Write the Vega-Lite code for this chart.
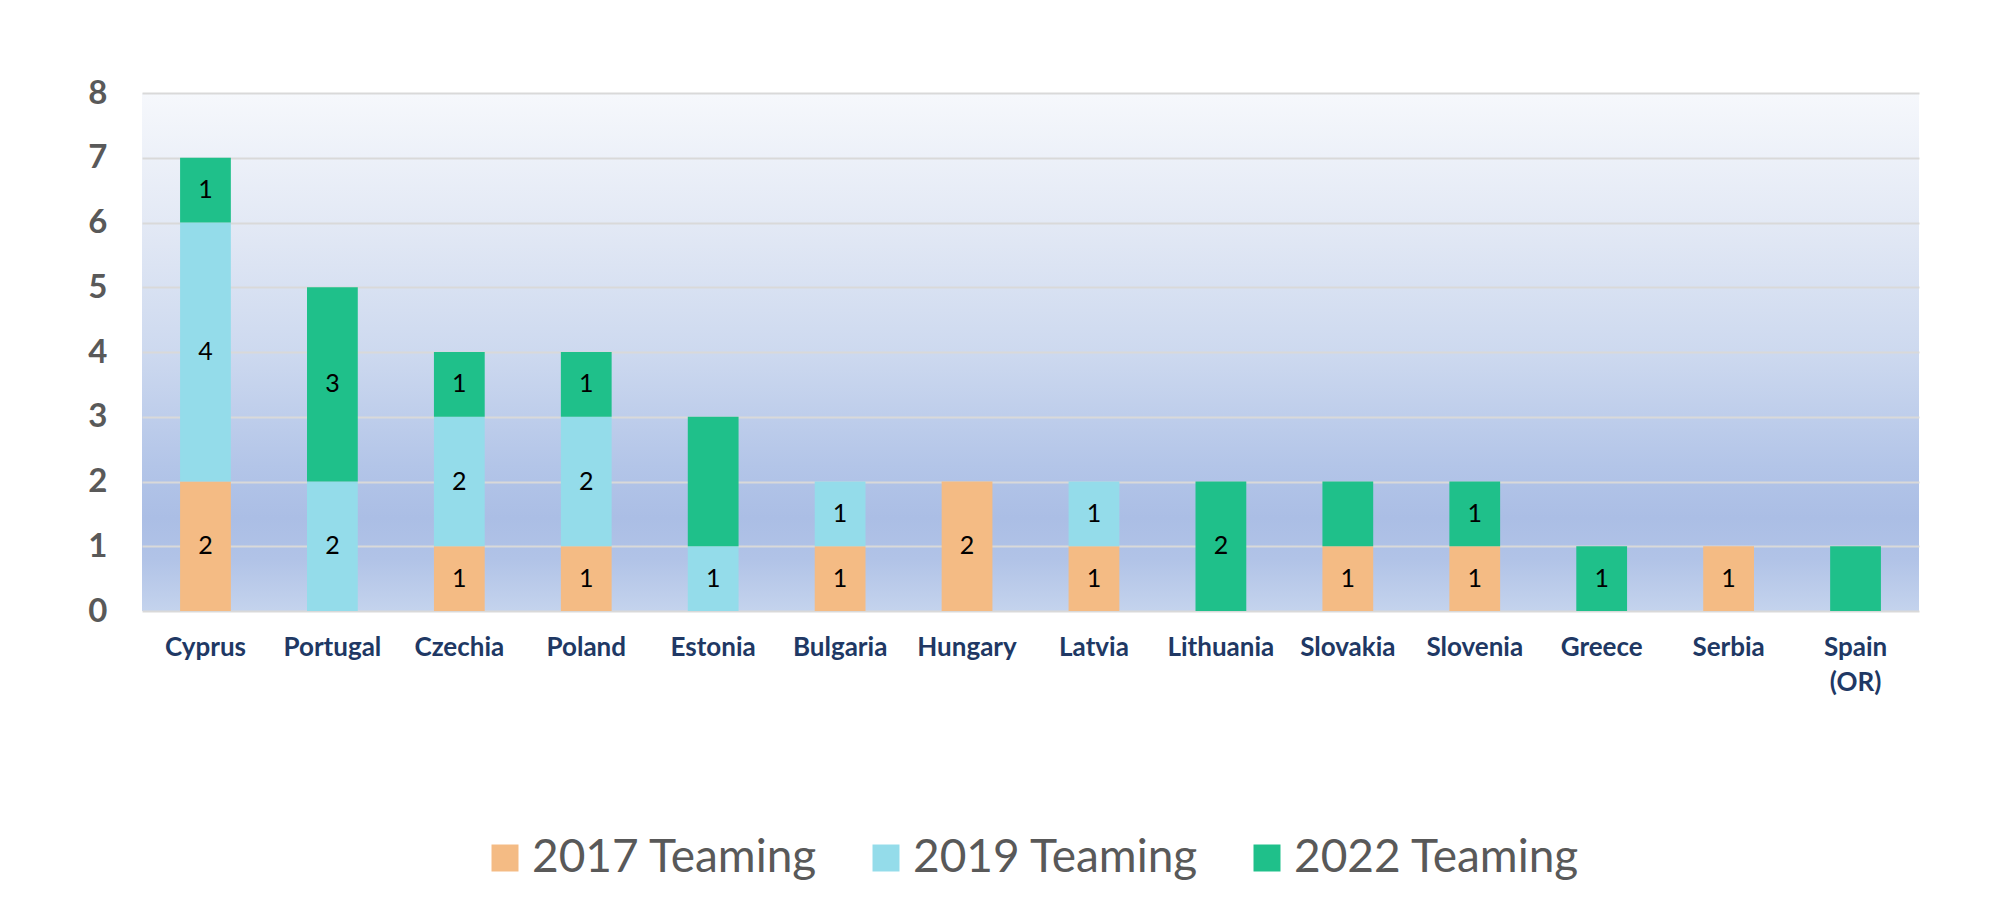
{
  "$schema": "https://vega.github.io/schema/vega-lite/v6.json",
  "width": 1777,
  "height": 518,
  "autosize": "none",
  "padding": {"left": 142, "top": 93, "right": 95, "bottom": 295},
  "background": "white",
  "config": {
    "font": "Lato",
    "view": {
      "stroke": null,
      "fill": {
        "gradient": "linear",
        "x1": 0, "y1": 0, "x2": 0, "y2": 1,
        "stops": [
          {"offset": 0, "color": "#f6f8fc"},
          {"offset": 0.25, "color": "#e3e9f5"},
          {"offset": 0.5, "color": "#cdd9ef"},
          {"offset": 0.72, "color": "#b3c5e8"},
          {"offset": 0.82, "color": "#abbee5"},
          {"offset": 0.9, "color": "#b1c3e7"},
          {"offset": 1, "color": "#c4d3ed"}
        ]
      }
    },
    "legend": {"layout": {"bottom": {"anchor": "middle"}}}
  },
  "data": {
    "values": [
      {"country": "Cyprus", "series": "2017 Teaming", "value": 2, "label": "2"},
      {"country": "Cyprus", "series": "2019 Teaming", "value": 4, "label": "4"},
      {"country": "Cyprus", "series": "2022 Teaming", "value": 1, "label": "1"},
      {"country": "Portugal", "series": "2019 Teaming", "value": 2, "label": "2"},
      {"country": "Portugal", "series": "2022 Teaming", "value": 3, "label": "3"},
      {"country": "Czechia", "series": "2017 Teaming", "value": 1, "label": "1"},
      {"country": "Czechia", "series": "2019 Teaming", "value": 2, "label": "2"},
      {"country": "Czechia", "series": "2022 Teaming", "value": 1, "label": "1"},
      {"country": "Poland", "series": "2017 Teaming", "value": 1, "label": "1"},
      {"country": "Poland", "series": "2019 Teaming", "value": 2, "label": "2"},
      {"country": "Poland", "series": "2022 Teaming", "value": 1, "label": "1"},
      {"country": "Estonia", "series": "2019 Teaming", "value": 1, "label": "1"},
      {"country": "Estonia", "series": "2022 Teaming", "value": 2, "label": ""},
      {"country": "Bulgaria", "series": "2017 Teaming", "value": 1, "label": "1"},
      {"country": "Bulgaria", "series": "2019 Teaming", "value": 1, "label": "1"},
      {"country": "Hungary", "series": "2017 Teaming", "value": 2, "label": "2"},
      {"country": "Latvia", "series": "2017 Teaming", "value": 1, "label": "1"},
      {"country": "Latvia", "series": "2019 Teaming", "value": 1, "label": "1"},
      {"country": "Lithuania", "series": "2022 Teaming", "value": 2, "label": "2"},
      {"country": "Slovakia", "series": "2017 Teaming", "value": 1, "label": "1"},
      {"country": "Slovakia", "series": "2022 Teaming", "value": 1, "label": ""},
      {"country": "Slovenia", "series": "2017 Teaming", "value": 1, "label": "1"},
      {"country": "Slovenia", "series": "2022 Teaming", "value": 1, "label": "1"},
      {"country": "Greece", "series": "2022 Teaming", "value": 1, "label": "1"},
      {"country": "Serbia", "series": "2017 Teaming", "value": 1, "label": "1"},
      {"country": "Spain (OR)", "series": "2022 Teaming", "value": 1, "label": ""}
    ]
  },
  "transform": [
    {"stack": "value", "groupby": ["country"], "sort": [{"field": "series", "order": "ascending"}], "as": ["y0", "y1"]}
  ],
  "encoding": {
    "x": {
      "field": "country",
      "type": "nominal",
      "sort": ["Cyprus", "Portugal", "Czechia", "Poland", "Estonia", "Bulgaria", "Hungary", "Latvia", "Lithuania", "Slovakia", "Slovenia", "Greece", "Serbia", "Spain (OR)"],
      "scale": {"paddingInner": 0.6, "paddingOuter": 0.3},
      "axis": {
        "title": null,
        "labelAngle": 0,
        "domain": false,
        "ticks": false,
        "labelFont": "Lato",
        "labelFontWeight": "bold",
        "labelFontSize": 26,
        "labelColor": "#203864",
        "labelPadding": 23,
        "labelLineHeight": 35,
        "labelBaseline": "top",
        "labelExpr": "datum.value == 'Spain (OR)' ? ['Spain', '(OR)'] : datum.value"
      }
    }
  },
  "layer": [
    {
      "mark": {"type": "bar"},
      "encoding": {
        "y": {
          "field": "y0",
          "type": "quantitative",
          "scale": {"domain": [0, 8], "nice": false},
          "axis": {
            "title": null,
            "values": [0, 1, 2, 3, 4, 5, 6, 7, 8],
            "format": "d",
            "domain": false,
            "ticks": false,
            "grid": true,
            "gridColor": "#d9d9d9",
            "gridWidth": 2,
            "labelFont": "Lato",
            "labelFontWeight": "bold",
            "labelFontSize": 33,
            "labelColor": "#595959",
            "labelPadding": 35
          }
        },
        "y2": {"field": "y1"},
        "color": {
          "field": "series",
          "type": "nominal",
          "scale": {
            "domain": ["2017 Teaming", "2019 Teaming", "2022 Teaming"],
            "range": ["#f4bb84", "#94dcea", "#1fc08a"]
          },
          "legend": {
            "title": null,
            "orient": "bottom",
            "direction": "horizontal",
            "symbolType": "square",
            "symbolSize": 729,
            "symbolStrokeWidth": 0,
            "labelFont": "Lato",
            "labelFontSize": 46,
            "labelColor": "#595959",
            "labelOffset": 4,
            "labelLimit": 600,
            "columnPadding": 45,
            "offset": 140
          }
        }
      }
    },
    {
      "transform": [
        {"fold": ["y0", "y1"], "as": ["edge", "pos"]},
        {"aggregate": [{"op": "mean", "field": "pos", "as": "mid"}], "groupby": ["country", "series", "label"]}
      ],
      "mark": {"type": "text", "font": "Lato", "fontSize": 25, "color": "#000000", "align": "center", "baseline": "middle"},
      "encoding": {
        "y": {"field": "mid", "type": "quantitative"},
        "text": {"field": "label"}
      }
    }
  ]
}
